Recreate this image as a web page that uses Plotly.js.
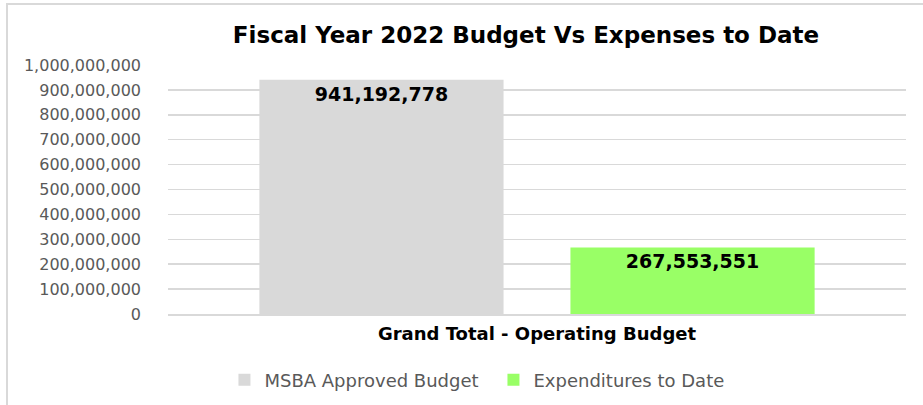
<!DOCTYPE html>
<html>
<head>
<meta charset="utf-8">
<script src="https://cdn.plot.ly/plotly-3.0.1.min.js"></script>
<style>
html,body{margin:0;padding:0;background:#fff;}
#wrap{position:relative;width:923px;height:405px;}
#chart{position:absolute;left:0;top:0;width:923px;height:405px;}
#frame{position:absolute;left:6px;top:3px;width:923px;height:410px;border-top:2px solid #d9d9d9;border-left:2px solid #d9d9d9;pointer-events:none;}
</style>
</head>
<body>
<div id="wrap"><div id="chart"></div><div id="frame"></div></div>
<script>
const categories = ["Grand Total - Operating Budget"];
const seriesNames = ["MSBA Approved Budget", "Expenditures to Date"];
const budgetValues = [941192778];
const expenditureValues = [267553551];
const yTickVals = [0,100000000,200000000,300000000,400000000,500000000,600000000,700000000,800000000,900000000,1000000000];

const FONT = "'DejaVu Sans', sans-serif";
const labelFont = {family: FONT, size: 19, color: '#000000', weight: 'bold'};

const traces = [
  {type:'bar', name: seriesNames[0], x: categories, y: budgetValues,
   marker:{color:'#d9d9d9'}, texttemplate:'%{y:,}', textposition:'inside',
   insidetextanchor:'end', textfont: labelFont, insidetextfont: labelFont, constraintext:'none', hoverinfo:'skip'},
  {type:'bar', name: seriesNames[1], x: categories, y: expenditureValues,
   marker:{color:'#99ff66'}, texttemplate:'%{y:,}', textposition:'inside',
   insidetextanchor:'end', textfont: labelFont, insidetextfont: labelFont, constraintext:'none', hoverinfo:'skip'}
];

const layout = {
  width: 923, height: 405,
  margin: {l:168, r:17, t:65, b:91, autoexpand:false},
  paper_bgcolor:'rgba(0,0,0,0)', plot_bgcolor:'#ffffff',
  title: {text:'Fiscal Year 2022 Budget Vs Expenses to Date', font:{family:FONT, size:23, color:'#000000', weight:'bold'},
          x: 526/923, xref:'container', xanchor:'center', y: 1-35/405, yref:'container', yanchor:'middle'},
  barmode:'group', bargap:0.157, bargroupgap:0.215,
  showlegend:true,
  legend:{orientation:'h', x:0.441, xanchor:'center', y:-0.265, yanchor:'middle', font:{family:FONT, size:18, color:'#595959'},
          itemwidth:30, entrywidth:224},
  xaxis:{type:'category', showgrid:false, zeroline:false, showline:true, linecolor:'#d9d9d9', linewidth:1.5, ticks:'',
         ticklabelstandoff:3, tickfont:{family:FONT, size:18, color:'#000000', weight:'bold'}, fixedrange:true},
  yaxis:{range:[0,1000000000], tickvals:yTickVals, tickformat:',', showgrid:true, gridcolor:'#d9d9d9', gridwidth:1.5,
         zeroline:false, showline:false, ticks:'', ticklen:0, ticklabelstandoff:26,
         tickfont:{family:FONT, size:16, color:'#595959'}, fixedrange:true, automargin:false},
  hovermode:false
};

Plotly.newPlot('chart', traces, layout, {displayModeBar:false, staticPlot:true});
</script>
</body>
</html>
